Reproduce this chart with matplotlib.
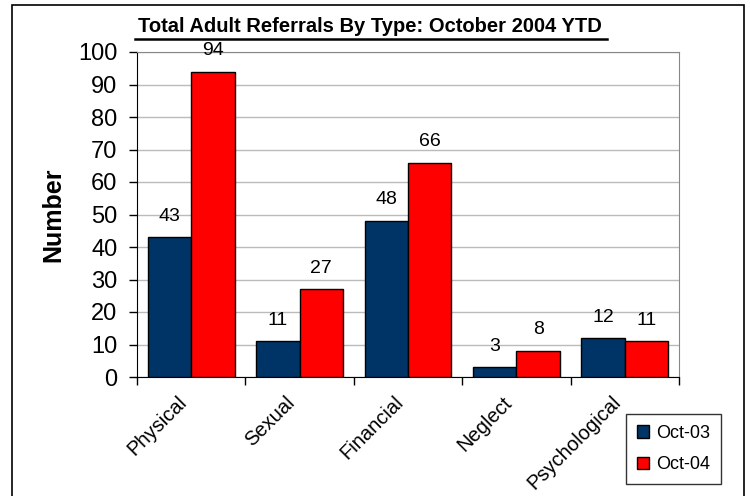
import numpy as np
import matplotlib.pyplot as plt
import matplotlib.transforms as mtransforms
from matplotlib.patches import Rectangle

categories = ["Physical", "Sexual", "Financial", "Neglect", "Psychological"]
oct_03 = [43, 11, 48, 3, 12]
oct_04 = [94, 27, 66, 8, 11]
series_names = ["Oct-03", "Oct-04"]
colors = ["#003366", "#FF0000"]

plt.rcParams['font.family'] = ['Liberation Sans', 'DejaVu Sans']

fig = plt.figure(figsize=(7.5, 4.96), dpi=100)
ax = fig.add_axes([137/750, 1-377/496, 542/750, 325/496])

x = np.arange(len(categories))
w = 0.4
bars1 = ax.bar(x - w/2, oct_03, w, color=colors[0], edgecolor="black", linewidth=1, label=series_names[0], zorder=3)
bars2 = ax.bar(x + w/2, oct_04, w, color=colors[1], edgecolor="black", linewidth=1, label=series_names[1], zorder=3)

for bars in (bars1, bars2):
    for b in bars:
        ax.annotate(f"{int(b.get_height())}", (b.get_x() + b.get_width()/2, b.get_height()),
                    xytext=(0, 9), textcoords="offset points", ha="center", va="bottom", fontsize=14)

ax.set_xlim(-0.5, len(categories) - 0.5)
ax.set_ylim(0, 100)
ax.set_yticks(np.arange(0, 101, 10))
ax.tick_params(axis="y", labelsize=17, length=6, width=1, pad=8)
ax.yaxis.grid(True, color="#bbbbbb", linewidth=1, zorder=0)

ax.set_xticks(np.arange(len(categories) + 1) - 0.5, minor=False)
ax.set_xticklabels([])
ax.set_xticks(x, minor=True)
ax.set_xticklabels(categories, minor=True, rotation=45, ha="right", rotation_mode="anchor", fontsize=14.5)
ax.tick_params(axis="x", which="major", length=6, width=1, direction="out")
ax.tick_params(axis="x", which="minor", length=0, pad=12)
shift = mtransforms.ScaledTranslation(-14/100, 1/100, fig.dpi_scale_trans)
for lbl in ax.get_xticklabels(minor=True):
    lbl.set_transform(lbl.get_transform() + shift)

for side in ("top", "right"):
    ax.spines[side].set_color("#888888")
ax.spines["left"].set_color("black")
ax.spines["bottom"].set_color("black")

ax.set_ylabel("Number", fontsize=18, fontweight="bold", labelpad=9)

title = fig.text(370/750, 1-27/496, "Total Adult Referrals By Type: October 2004 YTD",
                 ha="center", va="center", fontsize=14.5, fontweight="bold")
fig.add_artist(plt.Line2D([135/750, 607/750], [1-39/496, 1-39/496], color="black", linewidth=1.8))

leg = ax.legend(loc="center", bbox_to_anchor=(673.5/750, 1-449/496), bbox_transform=fig.transFigure,
                fontsize=13, frameon=True, fancybox=False, edgecolor="black",
                handlelength=0.7, handleheight=0.7, handletextpad=0.4, labelspacing=0.8, borderpad=0.6)
leg.get_frame().set_linewidth(1)

fig.add_artist(Rectangle((12/750, -0.01), 732/750, 1.0 - 5/496 + 0.01, transform=fig.transFigure,
                         fill=False, edgecolor="black", linewidth=1.2))

fig.savefig("out.png", dpi=100)
